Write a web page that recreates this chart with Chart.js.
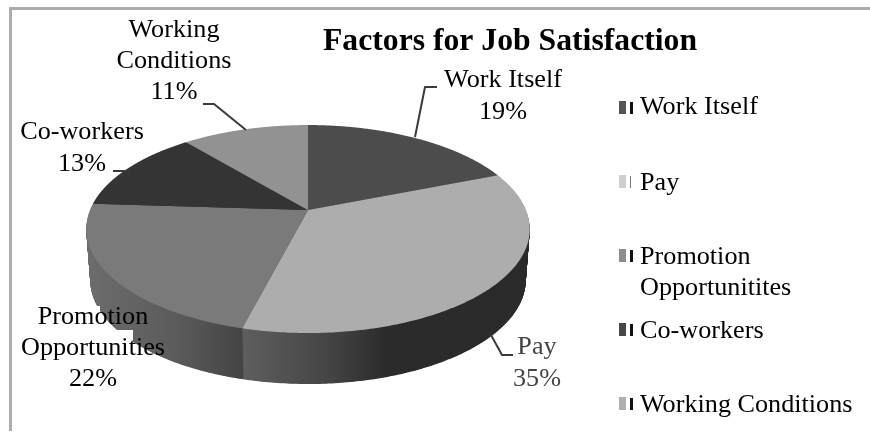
<!DOCTYPE html>
<html><head><meta charset="utf-8">
<script src="https://cdn.jsdelivr.net/npm/chart.js@4/dist/chart.umd.min.js"></script>
<style>
html,body{margin:0;padding:0;background:#fff;overflow:hidden}
#wrap{position:relative;width:870px;height:437px}
canvas{display:block}
#frame{position:absolute;left:9px;top:7px;right:0;bottom:6px;border-left:3px solid #aeaeae;border-top:3px solid #aaa;pointer-events:none}
</style></head>
<body><div id="wrap"><canvas id="c" width="870" height="437"></canvas><div id="frame"></div></div>
<script>
const titleText = 'Factors for Job Satisfaction';
const categories = ['Work Itself', 'Pay', 'Promotion Opportunitites', 'Co-workers', 'Working Conditions'];
const shares = [19, 35, 22, 13, 11];
const sliceColors = ['#4c4c4c', '#adadad', '#7a7a7a', '#343434', '#929292'];
const legendColors = ['#555555', '#cfcfcf', '#8c8c8c', '#484848', '#b0b0b0'];
const legendTickColors = ['#111111', '#777777', '#111111', '#111111', '#111111'];
const legendLines = [['Work Itself'], ['Pay'], ['Promotion', 'Opportunitites'], ['Co-workers'], ['Working Conditions']];
const dataLabels = [['Work Itself', '19%'], ['Pay', '35%'], ['Promotion', 'Opportunities', '22%'], ['Co-workers', '13%'], ['Working', 'Conditions', '11%']];

const view = {cx: 308, cy: 210, a: 218, b: 100.5, k: 0.183, depth: 51, shrink: 0.018};
const SERIF = '"Liberation Serif", serif';

const solidPie = {
  id: 'solidPie',
  beforeDatasetDraw(chart, args) {
    const ctx = chart.ctx, arcs = args.meta.data, ref = arcs[0];
    const native = {arc: ctx.arc, lineTo: ctx.lineTo, moveTo: ctx.moveTo};
    let drop = 0;
    const project = (x, y) => {
      const nx = (x - ref.x) / ref.outerRadius, ny = (y - ref.y) / ref.outerRadius;
      const w = 1 - view.k * ny, s = 1 - view.shrink * drop / view.depth;
      return [view.cx + view.a * s * nx / w, view.cy + view.b * ny / w + drop];
    };
    ctx.lineTo = (x, y) => native.lineTo.call(ctx, ...project(x, y));
    ctx.moveTo = (x, y) => native.moveTo.call(ctx, ...project(x, y));
    ctx.arc = (x, y, r, a0, a1) => {
      const n = 90;
      for (let i = 0; i <= n; i++) {
        const t = a0 + (a1 - a0) * i / n;
        native.lineTo.call(ctx, ...project(x + r * Math.cos(t), y + r * Math.sin(t)));
      }
    };
    const hGrad = (x0, x1, stops) => {
      const g = ctx.createLinearGradient(x0, 0, x1, 0);
      stops.forEach(s => g.addColorStop(s[0], s[1]));
      return g;
    };
    const walls = [
      '#2c2c2c',
      hGrad(243, 530, [[0, '#5e5e5e'], [0.3, '#444444'], [0.5, '#2b2b2b'], [1, '#2a2a2a']]),
      hGrad(88, 243, [[0, '#6c6c6c'], [0.6, '#5a5a5a'], [1, '#444444']]),
      '#2c2c2c',
      '#6a6a6a'
    ];
    for (drop = view.depth; drop >= 1; drop -= 0.5) {
      arcs.forEach((arc, i) => {
        const saved = arc.options;
        arc.options = {...saved, backgroundColor: walls[i]};
        arc.draw(ctx);
        arc.options = saved;
      });
    }
    drop = 0;
    arcs.forEach(arc => arc.draw(ctx));
    delete ctx.arc; delete ctx.lineTo; delete ctx.moveTo;
    return false;
  },
  afterDatasetsDraw(chart) {
    const ctx = chart.ctx;
    ctx.save();
    // white patch under the left label
    ctx.fillStyle = '#fff';
    ctx.fillRect(60, 330, 73, 36);
    ctx.fillRect(60, 306, 40, 26);

    // leader lines
    ctx.strokeStyle = '#3a3a3a'; ctx.lineWidth = 2; ctx.lineJoin = 'round';
    const leaders = [
      [[437, 87], [425, 87], [415, 137]],
      [[491, 335], [502, 355], [513, 355]],
      [[113, 171], [129, 171]],
      [[203, 104], [214, 104], [246, 130]]
    ];
    leaders.forEach(l => {
      ctx.beginPath();
      l.forEach((p, i) => i ? ctx.lineTo(p[0], p[1]) : ctx.moveTo(p[0], p[1]));
      ctx.stroke();
    });

    // data labels
    ctx.font = '26.2px ' + SERIF; ctx.textAlign = 'center'; ctx.textBaseline = 'alphabetic';
    const labelPlace = [
      {x: 503, ys: [87, 119], color: '#000'},
      {x: 537, ys: [354, 386], color: '#444'},
      {x: 93, ys: [324, 355, 386], color: '#000'},
      {x: 82, ys: [139, 171], color: '#000'},
      {x: 174, ys: [37, 68, 99], color: '#000'}
    ];
    dataLabels.forEach((lines, i) => {
      ctx.fillStyle = labelPlace[i].color;
      lines.forEach((t, j) => ctx.fillText(t, labelPlace[i].x, labelPlace[i].ys[j]));
    });

    // legend
    const legendPlace = [
      {top: 101, ys: [114]},
      {top: 175, ys: [190]},
      {top: 249, ys: [264, 295]},
      {top: 323, ys: [338]},
      {top: 397, ys: [412]}
    ];
    ctx.textAlign = 'left';
    legendLines.forEach((lines, i) => {
      const p = legendPlace[i];
      ctx.fillStyle = legendColors[i]; ctx.fillRect(619, p.top, 7, 13);
      ctx.fillStyle = legendTickColors[i]; ctx.fillRect(630, p.top + 1, i === 1 ? 1 : 3, 12);
      ctx.fillStyle = '#000';
      lines.forEach((t, j) => ctx.fillText(t, 640, p.ys[j]));
    });
    ctx.restore();
  }
};

new Chart(document.getElementById('c'), {
  type: 'pie',
  data: {
    labels: categories,
    datasets: [{data: shares, backgroundColor: sliceColors, borderWidth: 0, clip: false}]
  },
  options: {
    responsive: false,
    animation: false,
    events: [],
    layout: {padding: {left: 150, right: 0, top: 0, bottom: 0}},
    plugins: {
      legend: {display: false},
      tooltip: {enabled: false},
      title: {
        display: true, text: titleText, color: '#000',
        font: {family: SERIF, size: 31.7, weight: 'bold'},
        padding: {top: 23, bottom: 8}
      }
    }
  },
  plugins: [solidPie]
});
</script>
</body></html>
